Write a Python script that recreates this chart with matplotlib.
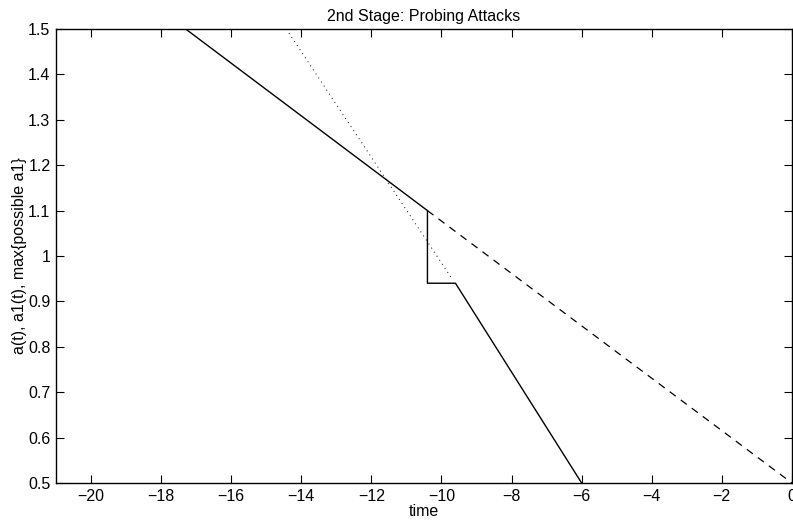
import matplotlib
matplotlib.use('Agg')
import matplotlib.pyplot as plt

# a(t) actual path, with the drop at the probing point
a_time = [-17.3, -10.4, -10.4, -9.6, -6.0]
a_val = [1.5, 1.1, 0.94, 0.94, 0.5]

# a(t) continued without the attack
a_cont_time = [-10.4, 0.0]
a_cont_val = [1.1, 0.5]

# max{possible a1}
a1_time = [-14.43, -9.7]
a1_val = [1.5, 0.95]

plt.rcParams['font.family'] = ['Liberation Sans', 'DejaVu Sans']
plt.rcParams['font.size'] = 11.5

fig = plt.figure(figsize=(7.93, 5.27), dpi=100)
ax = fig.add_axes([0.0706, 0.0835, 0.928, 0.8615])

ax.plot(a_time, a_val, color='k', linewidth=1.0)
ax.plot(a_cont_time, a_cont_val, color='k', linewidth=0.9, linestyle=(0, (6, 5)))
ax.plot(a1_time, a1_val, color='k', linewidth=0.7, linestyle=(0, (1, 4)))

ax.set_xlim(-21, 0)
ax.set_ylim(0.5, 1.5)
ax.set_xticks(range(-20, 1, 2))
ax.set_yticks([0.5, 0.6, 0.7, 0.8, 0.9, 1.0, 1.1, 1.2, 1.3, 1.4, 1.5])
ax.set_yticklabels(['0.5', '0.6', '0.7', '0.8', '0.9', '1', '1.1', '1.2', '1.3', '1.4', '1.5'])
ax.tick_params(direction='in', length=6, width=0.8, top=True, right=True, pad=4)
for s in ax.spines.values():
    s.set_linewidth(1.0)

ax.set_title('2nd Stage: Probing Attacks', fontsize=11.5, pad=6)
ax.set_xlabel('time', labelpad=0)
ax.set_ylabel('a(t), a1(t), max{possible a1}', labelpad=1)

fig.savefig('out.png', dpi=100)
